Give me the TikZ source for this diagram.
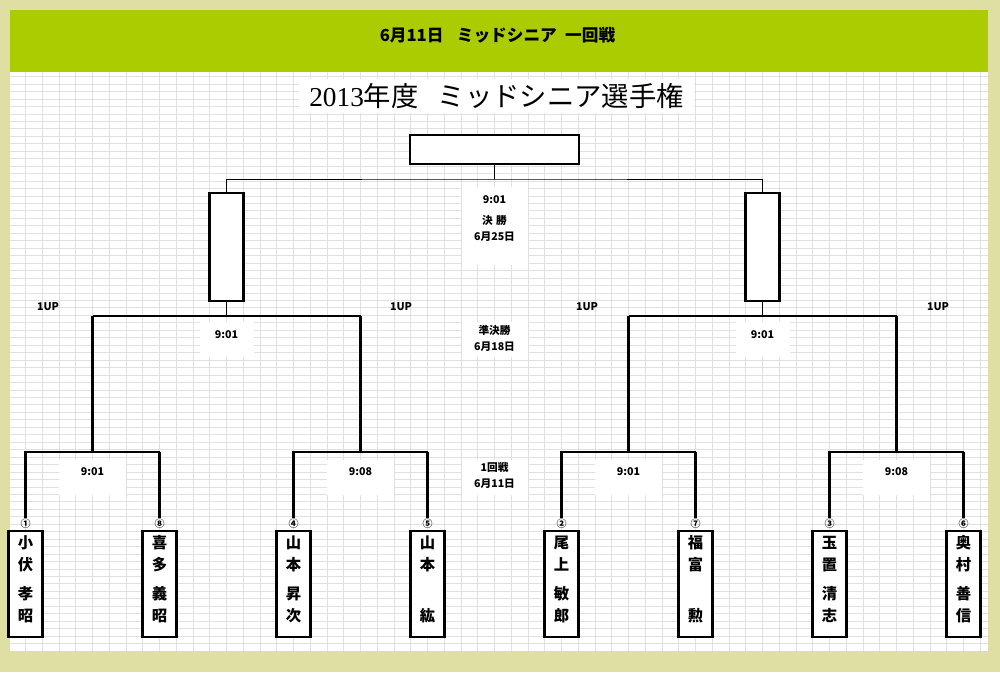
\documentclass[tikz,border=0pt]{standalone}
\usepackage{fontspec}
\usepackage{tikz}
\usetikzlibrary{positioning}
\newfontfamily\jp{Noto Sans CJK JP}
\newfontfamily\lserif{Liberation Serif}
\definecolor{khaki}{HTML}{E0DFA3}
\definecolor{leaf}{HTML}{AACC00}
\definecolor{cellgrid}{HTML}{E0E0E0}

\begin{document}
\begin{tikzpicture}[x=0.75pt, y=-0.75pt, on grid, node distance=100.5pt,
    player/.style={draw, line width=1.7pt, fill=white, minimum width=25.5pt, minimum height=79.5pt,
      inner sep=0pt, align=center, font=\jp\bfseries\fontsize{11.5}{16.5}\selectfont},
    seed/.style={font=\jp\bfseries\fontsize{7.5}{8}\selectfont, inner sep=0.5pt},
    blank/.style={draw, line width=1.7pt, fill=white, inner sep=0pt},
    tag/.style={font=\jp\bfseries\fontsize{8}{9}\selectfont, inner sep=0pt},
    win/.style={line width=2.2pt},
    lose/.style={line width=1pt},
    link/.style={line width=0.75pt}]
        \useasboundingbox (0,0) rectangle (1000,672);
        % sheet
        \fill[khaki] (0,0) rectangle (1000,672);
        \fill[leaf] (10,10) rectangle (988,72);
        \fill[white] (10,72) rectangle (988,651);
        \foreach \k in {0,...,57}
          \draw[cellgrid, line width=0.75pt] ({25.5+16.75*\k},72) -- ({25.5+16.75*\k},651);
        \foreach \k in {0,...,76}
          \draw[cellgrid, line width=0.75pt] (10,{76.7+7.46*\k}) -- (988,{76.7+7.46*\k});
        \fill[white] (462,187) rectangle (528,265);
        \fill[white] (462,322) rectangle (528,357);
        \fill[white] (462,460) rectangle (528,495);
        \fill[white] (200,322) rectangle (254,357);
        \fill[white] (736,322) rectangle (790,357);
        \fill[white] (59,460) rectangle (126,495);
        \fill[white] (327,460) rectangle (394,495);
        \fill[white] (595,460) rectangle (662,495);
        \fill[white] (863,460) rectangle (930,495);

        \node[font=\jp\bfseries\fontsize{12.5}{14}\selectfont] (hdr) at (497.5,35)
          {6月11日\hspace{0.8em}ミッドシニア\hspace{0.5em}一回戦};
        \node[fill=white, inner xsep=8pt, inner ysep=3pt, font=\jp\fontsize{20.5}{22}\selectfont]
          (ttl) at (496.5,96) {{\lserif 2013}年度\hspace{0.7em}ミッドシニア選手権};

        % players
        \node[player] (p1) at (25.5,584) {小\\伏\\[5.25pt]孝\\昭\rule[-8pt]{0pt}{0pt}};
        \node[player] (p2) [right=of p1] {喜\\多\\[5.25pt]義\\昭\rule[-8pt]{0pt}{0pt}};
        \node[player] (p3) [right=of p2] {山\\本\\[5.25pt]昇\\次\rule[-8pt]{0pt}{0pt}};
        \node[player] (p4) [right=of p3] {山\\本\\[5.25pt]\phantom{山}\\紘\rule[-8pt]{0pt}{0pt}};
        \node[player] (p5) [right=of p4] {尾\\上\\[5.25pt]敏\\郎\rule[-8pt]{0pt}{0pt}};
        \node[player] (p6) [right=of p5] {福\\富\\[5.25pt]\phantom{山}\\勲\rule[-8pt]{0pt}{0pt}};
        \node[player] (p7) [right=of p6] {玉\\置\\[5.25pt]清\\志\rule[-8pt]{0pt}{0pt}};
        \node[player] (p8) [right=of p7] {奥\\村\\[5.25pt]善\\信\rule[-8pt]{0pt}{0pt}};
        \node[seed] (c1) [above=45pt of p1] {①};
        \node[seed] (c2) [above=45pt of p2] {⑧};
        \node[seed] (c3) [above=45pt of p3] {④};
        \node[seed] (c4) [above=45pt of p4] {⑤};
        \node[seed] (c5) [above=45pt of p5] {②};
        \node[seed] (c6) [above=45pt of p6] {⑦};
        \node[seed] (c7) [above=45pt of p7] {③};
        \node[seed] (c8) [above=45pt of p8] {⑥};

        % winners' boxes
        \node[blank, minimum width=25.5pt, minimum height=81pt]  (sf1) at (226.5,247) {};
        \node[blank, minimum width=25.5pt, minimum height=81pt]  (sf2) at (762.5,247) {};
        \node[blank, minimum width=126.75pt, minimum height=21.75pt] (fb) at (494.5,149.5) {};

        % junctions
        \coordinate (q1) at (92.5,452);
        \coordinate (q2) at (360.5,452);
        \coordinate (q3) at (628.5,452);
        \coordinate (q4) at (896.5,452);
        \coordinate (s1) at (226.5,316);
        \coordinate (s2) at (762.5,316);
        \coordinate (f)  at (494.5,179);

        % first round
        \draw[win]  (c1.north) |- (q1);
        \draw[win]  (c2.north) -- (c2.north |- q1);
        \draw[lose] (c2.north |- q1) -- (q1);
        \draw[win]  (c3.north) |- (q2);
        \draw[win]  (c4.north) -- (c4.north |- q2);
        \draw[lose] (c4.north |- q2) -- (q2);
        \draw[win]  (c5.north) |- (q3);
        \draw[win]  (c6.north) -- (c6.north |- q3);
        \draw[lose] (c6.north |- q3) -- (q3);
        \draw[win]  (c7.north) |- (q4);
        \draw[win]  (c8.north) -- (c8.north |- q4);
        \draw[lose] (c8.north |- q4) -- (q4);
        % semi finals
        \draw[win]  (q1) -- (q1 |- s1);
        \draw[win]  (q2) -- (q2 |- s1);
        \draw[win]  (q3) -- (q3 |- s2);
        \draw[win]  (q4) -- (q4 |- s2);
        \draw[lose] (q1 |- s1) -- (q2 |- s1);
        \draw[lose] (q3 |- s2) -- (q4 |- s2);
        \draw[link] (s1) -- (sf1.south);
        \draw[link] (s2) -- (sf2.south);
        % final
        \draw[link] (sf1.north) |- (f) -| (sf2.north);
        \draw[link] (f) -- (fb.south);

        % times and dates
        \node[tag] (fin) [below=12pt of f]      {9:01};
        \node[tag] (fnm) [below=15.75pt of fin] {決\hspace{0.3em}勝};
        \node[tag] (fdt) [below=12pt of fnm]    {6月25日};
        \node[tag] (st1) [below=10.5pt of s1]   {9:01};
        \node[tag] (st2) [below=10.5pt of s2]   {9:01};
        \node[tag] (sem) at (494.5,330)         {準決勝};
        \node[tag] (sdt) [below=12.75pt of sem] {6月18日};
        \node[tag] (mt1) [below=11.25pt of q1]  {9:01};
        \node[tag] (mt2) [below=11.25pt of q2]  {9:08};
        \node[tag] (mt3) [below=11.25pt of q3]  {9:01};
        \node[tag] (mt4) [below=11.25pt of q4]  {9:08};
        \node[tag] (rnd) at (494.5,467)         {1回戦};
        \node[tag] (rdt) [below=12.75pt of rnd] {6月11日};
        \node[tag] (u1) at (48,307)  {1UP};
        \node[tag] (u2) at (401,307) {1UP};
        \node[tag] (u3) at (587,307) {1UP};
        \node[tag] (u4) at (938,307) {1UP};
\end{tikzpicture}
\end{document}
